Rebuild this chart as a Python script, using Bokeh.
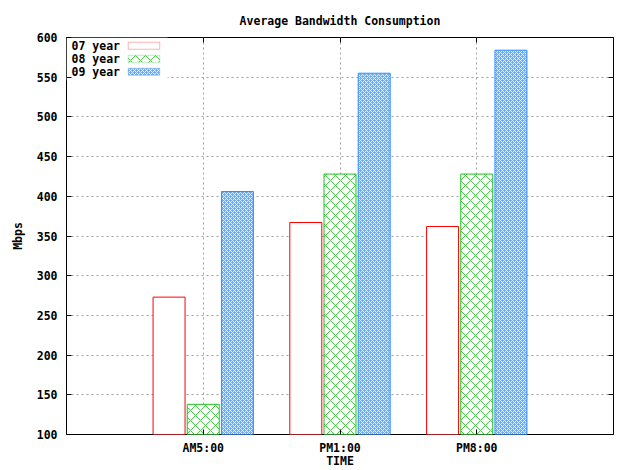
from bokeh.plotting import figure
from bokeh.models import Range1d, FixedTicker, LinearAxis, BoxAnnotation, Label, ColumnDataSource
from bokeh.transform import dodge
from bokeh.embed import file_html
from bokeh.resources import INLINE

categories = ["AM5:00", "PM1:00", "PM8:00"]
series_names = ["07 year", "08 year", "09 year"]
y07 = [273, 367, 362]
y08 = [138, 428, 428]
y09 = [406, 555, 584]
y_ticks = list(range(100, 601, 50))

FONT = "DejaVu Sans Mono"
FS = "11.5px"
RED = "#ff0000"
GREEN = "#22c022"
GREEN_H = "#44cc44"
BLUE = "#2f8fff"
BLUE_FILL = "#66adff"
BLUE_H = "#e4f1ff"

xpos = [i + 1 for i in range(len(categories))]
src = ColumnDataSource(dict(x=xpos, y07=y07, y08=y08, y09=y09))

p = figure(width=620, height=470, output_backend="svg", toolbar_location=None,
           x_range=Range1d(0, len(categories) + 1), y_range=Range1d(y_ticks[0], y_ticks[-1]),
           min_border_left=66, min_border_right=7, min_border_top=37, min_border_bottom=36,
           title="Average Bandwidth Consumption")

p.title.align = "center"
p.title.text_font = FONT
p.title.text_font_size = FS
p.title.text_font_style = "bold"
p.title.text_color = "black"
p.title.standoff = 19

p.outline_line_color = "black"
p.outline_line_width = 1
p.background_fill_color = "white"
p.border_fill_color = "white"

# axes
p.xaxis.ticker = FixedTicker(ticks=xpos)
p.xaxis.major_label_overrides = {x: c for x, c in zip(xpos, categories)}
p.yaxis.ticker = FixedTicker(ticks=y_ticks)
for ax in (p.xaxis[0], p.yaxis[0]):
    ax.major_label_text_font = FONT
    ax.major_label_text_font_size = FS
    ax.major_label_text_font_style = "bold"
    ax.major_label_text_color = "black"
    ax.major_tick_in = 5
    ax.major_tick_out = 0
    ax.minor_tick_line_color = None
    ax.axis_line_color = None
    ax.major_tick_line_color = "black"
    ax.axis_label_text_font = FONT
    ax.axis_label_text_font_size = FS
    ax.axis_label_text_font_style = "bold"
    ax.axis_label_text_color = "black"
p.xaxis.major_label_standoff = 6
p.xaxis.axis_label = "TIME"
p.xaxis.axis_label_standoff = -4
p.yaxis.major_label_standoff = 9
p.yaxis.axis_label = "Mbps"
p.yaxis.axis_label_standoff = 9

# mirror axes (ticks only)
right = LinearAxis(ticker=FixedTicker(ticks=y_ticks),
                   major_label_overrides={t: "" for t in y_ticks},
                   major_tick_in=5, major_tick_out=0, minor_tick_line_color=None,
                   axis_line_color=None, major_label_standoff=0)
top = LinearAxis(ticker=FixedTicker(ticks=xpos),
                 major_label_overrides={t: "" for t in xpos},
                 major_tick_in=5, major_tick_out=0, minor_tick_line_color=None,
                 axis_line_color=None, major_label_standoff=0)
p.add_layout(right, "right")
p.add_layout(top, "above")

# grid
p.xgrid.ticker = FixedTicker(ticks=xpos)
p.ygrid.ticker = FixedTicker(ticks=y_ticks)
p.grid.grid_line_color = "#a0a0a0"
p.grid.grid_line_dash = "2 3"
p.grid.grid_line_width = 1

# legend background
p.add_layout(BoxAnnotation(left=0, right=0.74, top=600, bottom=546,
                           fill_color="white", fill_alpha=1, line_color=None, level="underlay"))

W = 0.234
base = y_ticks[0]
blue_style = dict(fill_color=BLUE_FILL, line_color=BLUE, hatch_pattern="diagonal_cross",
                  hatch_color=BLUE_H, hatch_scale=4, hatch_weight=1)
green_style = dict(fill_color="white", line_color=GREEN, hatch_pattern="diagonal_cross",
                   hatch_color=GREEN_H, hatch_scale=10, hatch_weight=1)
red_style = dict(fill_color="white", line_color=RED)

p.vbar(x=dodge("x", -0.25, range=p.x_range), top="y07", bottom=base, width=W, source=src,
       line_width=1, **red_style)
p.vbar(x="x", top="y08", bottom=base, width=W, source=src, line_width=1, **green_style)
p.vbar(x=dodge("x", 0.25, range=p.x_range), top="y09", bottom=base, width=W, source=src,
       line_width=1, **blue_style)

# legend
rows = [589.6, 573.2, 556.9]
for name, yc, st in zip(series_names, rows, [red_style, green_style, blue_style]):
    p.add_layout(Label(x=0.037, y=yc, text=name, text_font=FONT, text_font_size=FS,
                       text_font_style="bold", text_color="black",
                       text_baseline="middle", text_align="left"))
    p.add_layout(BoxAnnotation(left=0.451, right=0.682, top=yc + 4.4, bottom=yc - 4.4,
                               fill_alpha=1, line_width=1, **st))

open("out.html", "w").write(file_html(p, INLINE))
